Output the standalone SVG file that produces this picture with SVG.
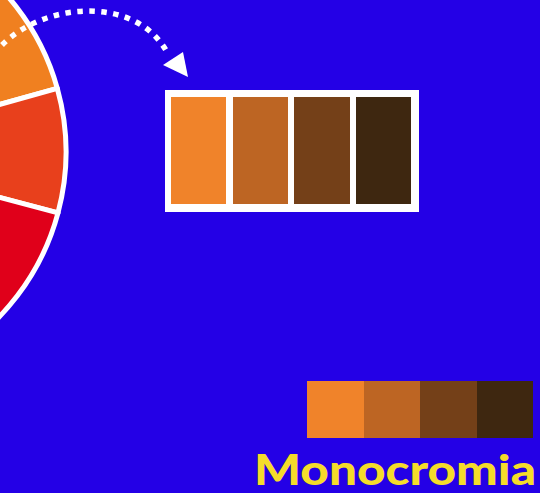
<svg xmlns="http://www.w3.org/2000/svg" width="540" height="493" viewBox="0 0 540 493">
<style>
.seg{stroke:#ffffff;stroke-width:5;stroke-linejoin:round}
.sw{stroke:none}
.c1{fill:#F0832A}.c2{fill:#BD6523}.c3{fill:#744018}.c4{fill:#3E2710}
</style>
<rect x="0" y="0" width="540" height="493" fill="#2400E6"/>
<g id="wheel">
<path class="seg" fill="#F08020" d="M -171 152 L -52.5 -53.2 A 237 237 0 0 1 57.3 88.3 Z"/>
<path class="seg" fill="#E8401C" d="M -171 152 L 57.3 88.3 A 237 237 0 0 1 58 212.9 Z"/>
<path class="seg" fill="#E0001A" d="M -171 152 L 58 212.9 A 237 237 0 0 1 -52.5 357.2 Z"/>
</g>
<g id="connectors">
<path d="M 2 45 C 45 2, 135 -5, 167 52" fill="none" stroke="#ffffff" stroke-width="5.5" stroke-dasharray="5.5 6.5"/>
<polygon points="163,65 183,52 188,77" fill="#ffffff"/>
</g>
<g id="palette-box">
<rect x="165" y="90" width="254" height="122" fill="#ffffff"/>
<rect class="sw c1" x="171" y="97" width="55" height="107"/>
<rect class="sw c2" x="233" y="97" width="55" height="107"/>
<rect class="sw c3" x="294" y="97" width="56" height="107"/>
<rect class="sw c4" x="356" y="97" width="55" height="107"/>
</g>
<g id="palette-strip">
<rect class="sw c1" x="307" y="381" width="57" height="57"/>
<rect class="sw c2" x="364" y="381" width="56" height="57"/>
<rect class="sw c3" x="420" y="381" width="57" height="57"/>
<rect class="sw c4" x="477" y="381" width="56" height="57"/>
</g>
<g id="title">
<text x="254" y="485" font-family="Lato, 'Liberation Sans', sans-serif" font-weight="900" font-size="42" fill="#F5DC2A" textLength="282" lengthAdjust="spacingAndGlyphs">Monocromia</text>
</g>
</svg>
